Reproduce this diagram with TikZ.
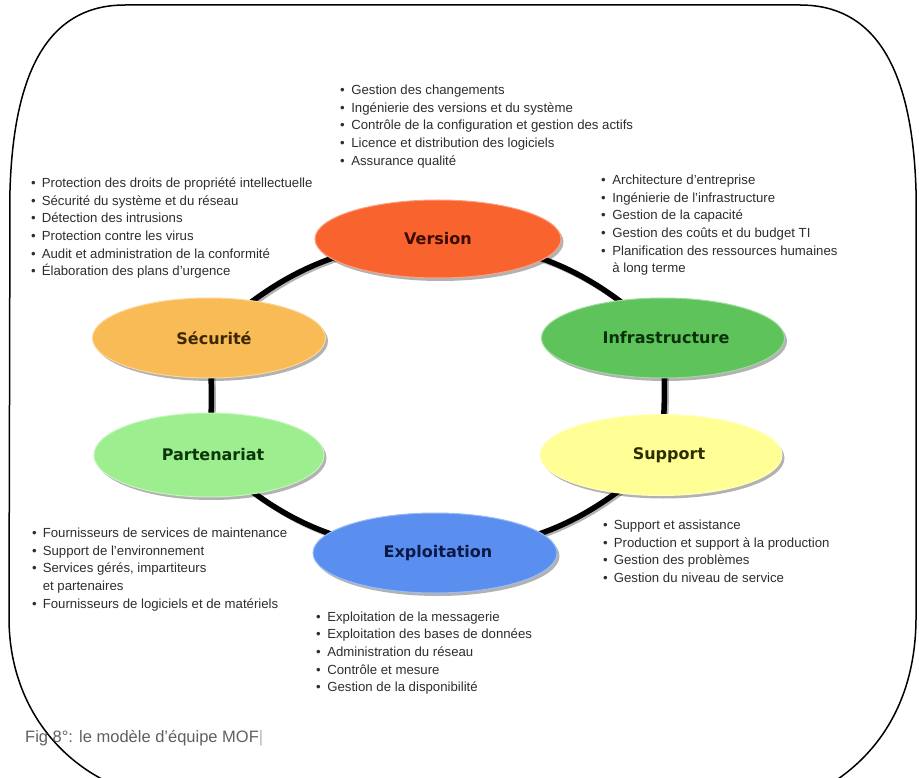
\documentclass[tikz,border=0pt]{standalone}
\usepackage{fontspec}
\setmainfont{Liberation Sans}
\newfontfamily\lblfont{DejaVu Sans}
\usetikzlibrary{shapes.geometric,backgrounds,shadows}
\definecolor{cver}{RGB}{249,99,46}
\definecolor{cinf}{RGB}{93,195,90}
\definecolor{csup}{RGB}{255,255,150}
\definecolor{cexp}{RGB}{90,143,240}
\definecolor{cpar}{RGB}{157,238,143}
\definecolor{csec}{RGB}{248,187,85}
\definecolor{tver}{RGB}{60,12,0}
\definecolor{tinf}{RGB}{10,50,10}
\definecolor{tsup}{RGB}{45,45,0}
\definecolor{texp}{RGB}{10,25,70}
\definecolor{tpar}{RGB}{10,55,10}
\definecolor{tsec}{RGB}{60,40,0}
\definecolor{listgray}{RGB}{45,45,45}
\definecolor{capgray}{RGB}{95,95,95}
\newcommand{\mofitem}[1]{\textbullet & #1\\}
\newcommand{\mofcont}[1]{ & #1\\}
\tikzset{
  blob/.style={ellipse, inner sep=0pt, line width=1pt,
    font=\lblfont\bfseries\fontsize{16}{18}\selectfont,
    drop shadow={shadow xshift=2.5pt,shadow yshift=-3pt,opacity=0.3,fill=black}},
  lst/.style={anchor=base west, inner sep=0pt, text=listgray,
    font=\fontsize{13.2}{17.7}\selectfont, align=left},
  ring/.style={line width=5.5pt, draw=black},
  ringshadow/.style={line width=5pt, draw=gray!60, transform canvas={xshift=2pt,yshift=-2pt}},
  frameline/.style={draw=black, line width=1.5pt}
}
\begin{document}
\begin{tikzpicture}[x=1pt,y=1pt]
\useasboundingbox (0,0) rectangle (919,-778);
% frame
\draw[frameline] (125,-5) -- (800,-5) .. controls (870,-5) and (912,-60) .. (916,-190)
  -- (916,-620) .. controls (915,-710) and (870,-770) .. (800,-800)
  -- (170,-800) .. controls (80,-790) and (10,-720) .. (9,-620)
  -- (10,-190) .. controls (14,-60) and (55,-5) .. (125,-5) -- cycle;
% ellipses
\node[blob, fill=cver, draw=cver!60!white, text=tver, minimum width=246pt, minimum height=78pt] (ver) at (438,-239) {Version};
\node[blob, fill=cinf, draw=cinf!60!white, text=tinf, minimum width=243pt, minimum height=80pt] (inf) at (663,-338) {\hspace{6pt}Infrastructure};
\node[blob, fill=csup, draw=csup!60!white, text=tsup, minimum width=242pt, minimum height=81pt] (sup) at (661,-455) {\hspace{16pt}Support};
\node[blob, fill=cexp, draw=cexp!60!white, text=texp, minimum width=244pt, minimum height=80pt] (exp) at (435,-553) {\hspace{6pt}Exploitation};
\node[blob, fill=cpar, draw=cpar!60!white, text=tpar, minimum width=230pt, minimum height=84pt] (par) at (209,-455) {\hspace{8pt}Partenariat};
\node[blob, fill=csec, draw=csec!60!white, text=tsec, minimum width=233pt, minimum height=80pt] (sec) at (209,-338) {\hspace{10pt}Sécurité};
% ring
\begin{scope}[on background layer]
\draw[ringshadow] (ver.center) to[bend left=20] (inf.center) to[bend left=4] (sup.center)
  to[bend left=20] (exp.center) to[bend left=20] (par.center) to[bend right=4] (sec.center)
  to[bend left=20] (ver.center);
\draw[ring] (ver.center) to[bend left=20] (inf.center) to[bend left=4] (sup.center)
  to[bend left=20] (exp.center) to[bend left=20] (par.center) to[bend right=4] (sec.center)
  to[bend left=20] (ver.center);
\end{scope}
% lists
\node[lst] (lver) at (340,-94.5) {\begin{tabular}[t]{@{}l@{\hspace{6.5pt}}l@{}}
\mofitem{Gestion des changements}
\mofitem{Ingénierie des versions et du système}
\mofitem{Contrôle de la configuration et gestion des actifs}
\mofitem{Licence et distribution des logiciels}
\mofitem{Assurance qualité}
\end{tabular}};
\node[lst] (lsec) at (31,-187.5) {\begin{tabular}[t]{@{}l@{\hspace{6pt}}l@{}}
\mofitem{Protection des droits de propriété intellectuelle}
\mofitem{Sécurité du système et du réseau}
\mofitem{Détection des intrusions}
\mofitem{Protection contre les virus}
\mofitem{Audit et administration de la conformité}
\mofitem{Élaboration des plans d'urgence}
\end{tabular}};
\node[lst] (linf) at (601,-184.5) {\begin{tabular}[t]{@{}l@{\hspace{6.5pt}}l@{}}
\mofitem{Architecture d'entreprise}
\mofitem{Ingénierie de l'infrastructure}
\mofitem{Gestion de la capacité}
\mofitem{Gestion des coûts et du budget TI}
\mofitem{Planification des ressources humaines}
\mofcont{à long terme}
\end{tabular}};
\node[lst] (lpar) at (32,-537.5) {\begin{tabular}[t]{@{}l@{\hspace{6pt}}l@{}}
\mofitem{Fournisseurs de services de maintenance}
\mofitem{Support de l'environnement}
\mofitem{Services gérés, impartiteurs}
\mofcont{et partenaires}
\mofitem{Fournisseurs de logiciels et de matériels}
\end{tabular}};
\node[lst] (lsup) at (603,-529.5) {\begin{tabular}[t]{@{}l@{\hspace{6pt}}l@{}}
\mofitem{Support et assistance}
\mofitem{Production et support à la production}
\mofitem{Gestion des problèmes}
\mofitem{Gestion du niveau de service}
\end{tabular}};
\node[lst] (lexp) at (316,-621) {\begin{tabular}[t]{@{}l@{\hspace{6.5pt}}l@{}}
\mofitem{Exploitation de la messagerie}
\mofitem{Exploitation des bases de données}
\mofitem{Administration du réseau}
\mofitem{Contrôle et mesure}
\mofitem{Gestion de la disponibilité}
\end{tabular}};
% caption
\node[anchor=base west, inner sep=0pt, text=capgray, font=\fontsize{16.5}{18}\selectfont] (cap) at (25,-742) {Fig 8°: le modèle d'équipe MOF\textcolor{gray!60}{|}};
\end{tikzpicture}
\end{document}
